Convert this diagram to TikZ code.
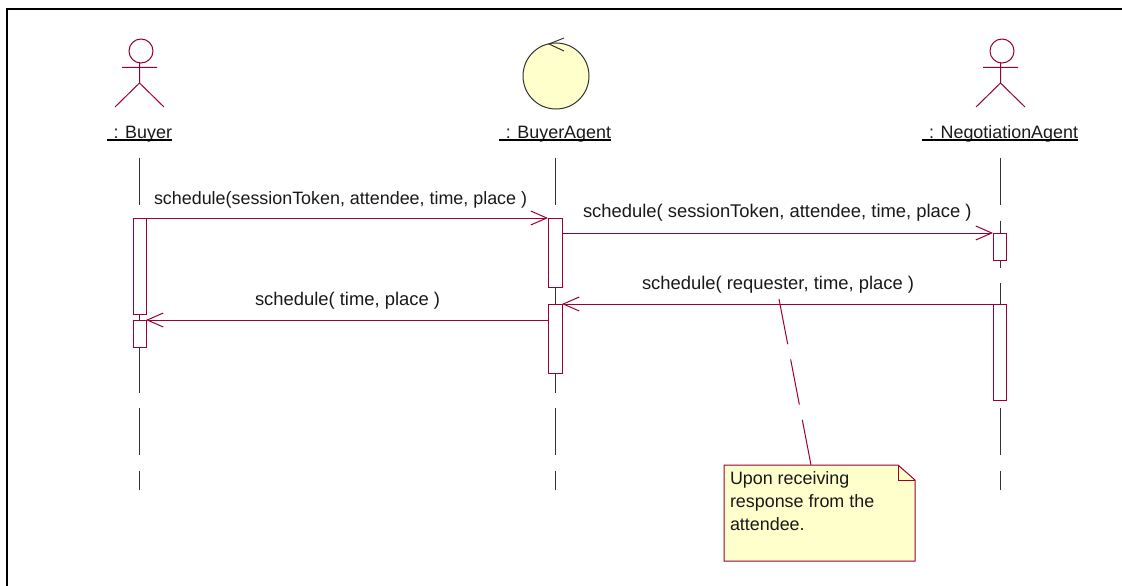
\documentclass[tikz,border=0pt]{standalone}
\usepackage{fontspec}
\setmainfont{Liberation Sans}
\usetikzlibrary{arrows.meta,calc}
\definecolor{umlred}{RGB}{153,0,51}
\definecolor{umlfill}{RGB}{255,255,204}
\tikzset{
  lbl/.style={inner sep=0pt, outer sep=0pt, anchor=base west, font=\fontsize{18.4}{22}\selectfont, text=black!90},
  lblsmall/.style={lbl, font=\fontsize{17.9}{22}\selectfont},
  nameline/.style={draw=black, line width=1.5pt},
  lifeline/.style={draw=black!80, line width=1pt, dash pattern=on 47pt off 15.5pt},
  bar/.style={draw=umlred, fill=white, line width=1pt, minimum width=13pt, inner sep=0pt, outer sep=0pt, anchor=north},
  msg/.style={draw=umlred, line width=1pt, -{Straight Barb[length=16pt,width=14pt,line width=1pt]}},
  notelink/.style={draw=umlred, line width=1pt, dash pattern=on 46pt off 15.5pt},
  actor/.pic={
    \draw[umlred, line width=1pt] (1.5,-56) circle (12);
    \draw[umlred, line width=1pt] (0,-44) -- (0,-24) (-17.5,-39.5) -- (17.5,-39.5)
      (-24.5,0) -- (0,-24) -- (24.5,0);
  }
}
\begin{document}
\begin{tikzpicture}[x=1pt, y=-1pt]
  \useasboundingbox (0,0) rectangle (1122,586);
  \draw[line width=2pt] (7,586) -- (7,9) -- (1122,9);

  \pic at (139.5,107) {actor};
  \pic at (1000.5,107) {actor};
  \node[circle, draw=black!80, fill=umlfill, line width=1pt, minimum size=66pt, inner sep=0pt] (agentIcon) at (556,76) {};
  \coordinate (tickTop) at (564,38);
  \coordinate (tickApex) at (549,44);
  \coordinate (tickBot) at (564,51);
  \draw[black!80, line width=1pt] (tickTop) -- (tickApex) -- (tickBot);

  \node[lblsmall, anchor=base east] (buyerName) at (172,138.5) {: Buyer};
  \node[lblsmall, anchor=base east] (agentName) at (611,138.5) {: BuyerAgent};
  \node[lblsmall, anchor=base east] (negName) at (1078,138.5) {: NegotiationAgent};
  \coordinate (buyerNameEnd) at (172,140);
  \coordinate (buyerNameStart) at (107,140);
  \coordinate (agentNameEnd) at (611,140);
  \coordinate (agentNameStart) at (499,140);
  \coordinate (negNameEnd) at (1078,140);
  \coordinate (negNameStart) at (922,140);
  \draw[nameline] (buyerNameStart) -- (buyerNameEnd);
  \draw[nameline] (agentNameStart) -- (agentNameEnd);
  \draw[nameline] (negNameStart) -- (negNameEnd);

  \coordinate (buyerTop) at (139.5,158);
  \coordinate (buyerEnd) at (139.5,490);
  \coordinate (agentTop) at (555,158);
  \coordinate (agentEnd) at (555,490);
  \coordinate (negTop) at (1000.5,158);
  \coordinate (negEnd) at (1000.5,490);
  \draw[lifeline] (buyerTop) -- (buyerEnd);
  \draw[lifeline] (agentTop) -- (agentEnd);
  \draw[lifeline] (negTop) -- (negEnd);

  \node[bar, minimum height=96pt] (buyerBarA) at (139.5,218) {};
  \node[bar, minimum height=27pt] (buyerBarB) at (139.5,320) {};
  \node[bar, minimum height=69pt, minimum width=14pt] (agentBarA) at (555,218) {};
  \node[bar, minimum height=69pt, minimum width=14pt] (agentBarB) at (555,304) {};
  \node[bar, minimum height=27pt] (negBarA) at (999.5,233) {};
  \node[bar, minimum height=96pt] (negBarB) at (999.5,304) {};

  \draw[msg] (buyerBarA.north east) -- (agentBarA.north west);
  \draw[msg] (negBarA.north west -| agentBarA.east) -- (negBarA.north west);
  \draw[msg] (negBarB.north west) -- (agentBarB.north east);
  \draw[msg] (buyerBarB.north east -| agentBarB.west) -- (buyerBarB.north east);

  \node[lblsmall] (msgOne) at (154,204.5) {schedule(sessionToken, attendee, time, place )};
  \node[lbl] (msgTwo) at (583,217.5) {schedule( sessionToken, attendee, time, place )};
  \node[lbl] (msgThree) at (642,289.5) {schedule( requester, time, place )};
  \node[lbl] (msgFour) at (255,305) {schedule( time, place )};

  \coordinate (noteNW) at (724,465);
  \coordinate (noteFoldA) at (898,465);
  \coordinate (noteFoldB) at (915,480);
  \coordinate (noteSE) at (915,561);
  \coordinate (noteSW) at (724,561);
  \coordinate (noteFoldC) at (898,480);
  \coordinate (linkTop) at (779,299);
  \coordinate (linkEnd) at (811,465);
  \draw[notelink] (linkTop) -- (linkEnd);
  \draw[draw=umlred, fill=umlfill, line width=1pt] (noteNW) -- (noteFoldA) -- (noteFoldB) -- (noteSE) -- (noteSW) -- cycle;
  \draw[draw=umlred, line width=1pt] (noteFoldA) -- (noteFoldC) -- (noteFoldB);
  \node[lblsmall] (noteA) at (730,484) {Upon receiving};
  \node[lblsmall] (noteB) at (730,507) {response from the};
  \node[lblsmall] (noteC) at (730,530) {attendee.};
\end{tikzpicture}
\end{document}
